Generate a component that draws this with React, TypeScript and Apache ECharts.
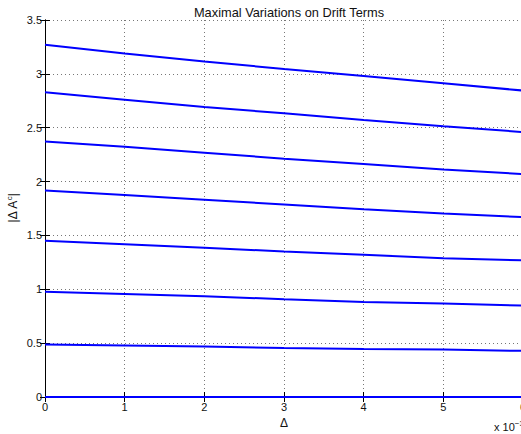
import React, { useEffect, useRef } from "react";
import * as echarts from "echarts";

// x values (in units of 10^-3)
const deltaValues = [0, 1, 2, 3, 4, 5, 6];
const curve1 = [3.27, 3.19, 3.115, 3.045, 2.98, 2.912, 2.845];
const curve2 = [2.829, 2.76, 2.692, 2.634, 2.572, 2.513, 2.46];
const curve3 = [2.373, 2.323, 2.268, 2.212, 2.163, 2.113, 2.07];
const curve4 = [1.918, 1.875, 1.831, 1.788, 1.744, 1.704, 1.67];
const curve5 = [1.45, 1.419, 1.385, 1.351, 1.32, 1.289, 1.268];
const curve6 = [0.976, 0.957, 0.936, 0.908, 0.883, 0.868, 0.849];
const curve7 = [0.487, 0.478, 0.468, 0.455, 0.446, 0.44, 0.428];
const curve8 = [0, 0, 0, 0, 0, 0, 0];
const curves = [curve1, curve2, curve3, curve4, curve5, curve6, curve7, curve8];

const titleText = "Maximal Variations on Drift Terms";
const xLabel = "Δ";

const FONT = "'Liberation Sans', Arial, Helvetica, sans-serif";

export default function App() {
  const ref = useRef<HTMLDivElement>(null);
  useEffect(() => {
    if (!ref.current) return;
    const chart = echarts.init(ref.current, null, { renderer: "svg" });
    const gridLine = { show: true, lineStyle: { color: "#777", type: [1, 3] as any, width: 1 } };
    const insideTick = { show: true, inside: true, length: 5, lineStyle: { color: "#000", width: 1 } };
    chart.setOption({
      animation: false,
      backgroundColor: "#fff",
      textStyle: { fontFamily: FONT },
      title: {
        text: titleText,
        left: 284,
        top: 1,
        textAlign: "center",
        textStyle: { fontSize: 12.8, fontWeight: "normal", color: "#111", fontFamily: FONT },
      },
      grid: { left: 45, top: 20, width: 478, height: 377, containLabel: false, outerBoundsMode: "none" },
      xAxis: [
        {
          type: "value",
          min: 0,
          max: 6,
          interval: 1,
          position: "bottom",
          axisLine: { show: true, lineStyle: { color: "#000", width: 1 } },
          axisTick: insideTick,
          splitLine: gridLine,
          axisLabel: { color: "#111", fontSize: 11, margin: 4, fontFamily: FONT },
          name: xLabel,
          nameLocation: "middle",
          nameGap: 18,
          nameTextStyle: { color: "#111", fontSize: 12, fontFamily: FONT },
        },
        {
          type: "value",
          min: 0,
          max: 6,
          interval: 1,
          position: "top",
          axisLine: { show: true, lineStyle: { color: "#000", width: 1 } },
          axisTick: insideTick,
          splitLine: { show: false },
          axisLabel: { show: false },
        },
      ],
      yAxis: [
        {
          type: "value",
          min: 0,
          max: 3.5,
          interval: 0.5,
          position: "left",
          axisLine: { show: true, lineStyle: { color: "#000", width: 1 } },
          axisTick: insideTick,
          splitLine: gridLine,
          axisLabel: { color: "#111", fontSize: 11, margin: 3, fontFamily: FONT },
        },
        {
          type: "value",
          min: 0,
          max: 3.5,
          interval: 0.5,
          position: "right",
          axisLine: { show: true, lineStyle: { color: "#000", width: 1 } },
          axisTick: insideTick,
          splitLine: { show: false },
          axisLabel: { show: false },
        },
      ],
      graphic: [
        {
          type: "text",
          x: 13,
          y: 208,
          rotation: Math.PI / 2,
          style: {
            text: "|Δ A{sup|c}|",
            fontSize: 12,
            fontFamily: FONT,
            fill: "#111",
            textAlign: "center",
            textVerticalAlign: "middle",
            rich: { sup: { fontSize: 8, padding: [0, 0, 7, 0], fontFamily: FONT, fill: "#111" } },
          },
        },
        {
          type: "text",
          x: 494,
          y: 427,
          style: {
            text: "x 10{sup|−3}",
            fontSize: 11,
            fontFamily: FONT,
            fill: "#111",
            textAlign: "left",
            textVerticalAlign: "middle",
            rich: { sup: { fontSize: 8, padding: [0, 0, 8, 0], fontFamily: FONT, fill: "#111" } },
          },
        },
      ],
      series: curves.map((c) => ({
        type: "line",
        data: deltaValues.map((x, i) => [x, c[i]]),
        showSymbol: false,
        symbol: "none",
        lineStyle: { color: "#0000ff", width: 2 },
        itemStyle: { color: "#0000ff" },
        clip: false,
        silent: true,
      })),
    });
    return () => chart.dispose();
  }, []);
  return (
    <div
      ref={ref}
      style={{ position: "fixed", left: 0, top: 0, width: 521, height: 434, background: "#fff" }}
    />
  );
}
